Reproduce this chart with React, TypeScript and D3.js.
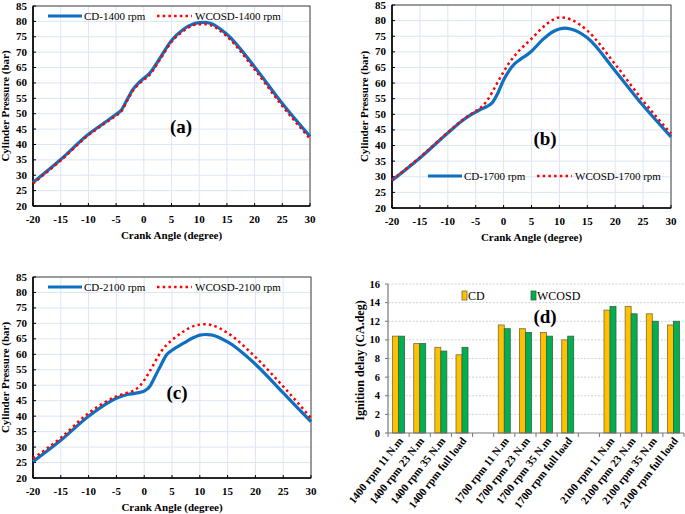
import React from "react";
import * as d3 from "d3";

// ---------- Data ----------
const anglesA = [-20, -15, -10, -7, -5, -4, -3, -2, -1, 0, 1, 2, 3, 5, 7, 9, 10, 11, 12, 15, 20, 25, 30];
const cd1400 = [27.6, 35.1, 43.3, 47.2, 49.8, 51.3, 54.6, 57.8, 59.9, 61.5, 63, 65.5, 68.3, 73.8, 77.2, 79.2, 79.6, 79.7, 79.4, 75.8, 65.2, 53.3, 42.6];
const wc1400 = [27.3, 34.8, 43, 46.9, 49.4, 50.9, 54.2, 57.4, 59.4, 61, 62.5, 65, 67.8, 73.3, 76.7, 78.8, 79.1, 79.1, 78.8, 75.1, 64.4, 52.5, 41.9];

const anglesB = [-20, -15, -10, -7, -5, -4, -3, -2, -1, 0, 1, 2, 3, 4, 5, 7, 9, 10, 11, 12, 15, 20, 25, 30];
const cd1700 = [28.8, 36, 44, 48.5, 50.7, 51.7, 52.5, 53.8, 56.9, 61, 64, 66.2, 67.6, 68.8, 70.2, 73.9, 76.6, 77.3, 77.6, 77.3, 74.5, 63.9, 52.8, 42.8];
const wc1700 = [29, 36.2, 44.2, 48.7, 51, 52.3, 54.3, 57.2, 60.5, 63.6, 66.5, 68.8, 70.8, 72.5, 74.2, 77.8, 80.4, 81, 80.9, 80.4, 76.8, 66, 54.3, 43.8];

const anglesC = [-20, -15, -10, -5, -3, -2, -1, 0, 1, 2, 3, 4, 5, 7, 9, 10, 11, 12, 15, 20, 25, 30];
const cd2100 = [25.3, 32.2, 40, 45.8, 47, 47.3, 47.6, 48.1, 49.6, 53, 56.5, 59.8, 61.3, 63.5, 65.5, 66.2, 66.4, 66.3, 64, 56.8, 47.5, 38.2];
const wc2100 = [26.3, 33, 41, 46.4, 47.6, 48.2, 49.4, 51.6, 54.5, 57.7, 60.8, 63, 64.6, 67.3, 69.2, 69.6, 69.7, 69.5, 66.9, 59.1, 49.6, 39.4];

const angleTicks = [-20, -15, -10, -5, 0, 5, 10, 15, 20, 25, 30];
const pressureTicks = [20, 25, 30, 35, 40, 45, 50, 55, 60, 65, 70, 75, 80, 85];

const delayCategories = [
  "1400 rpm 11 N.m", "1400 rpm 23 N.m", "1400 rpm 35 N.m", "1400 rpm full load", "gap1",
  "1700 rpm 11 N.m", "1700 rpm 23 N.m", "1700 rpm 35 N.m", "1700 rpm full load", "gap2",
  "2100 rpm 11 N.m", "2100 rpm 23 N.m", "2100 rpm 35 N.m", "2100 rpm full load",
];
const delayCD = [10.4, 9.6, 9.2, 8.4, null, 11.6, 11.2, 10.8, 10.0, null, 13.2, 13.6, 12.8, 11.6];
const delayWCOSD = [10.4, 9.6, 8.8, 9.2, null, 11.2, 10.8, 10.4, 10.4, null, 13.6, 12.8, 12.0, 12.0];
const delayTicks = [0, 2, 4, 6, 8, 10, 12, 14, 16];

// ---------- Styles ----------
const FONT = "'Liberation Serif', 'Times New Roman', serif";
const BLUE = "#0f6fc0";
const RED = "#ff0000";
const GRID = "#dbe5f4";

type PanelProps = {
  x0: number; x1: number; y0: number; y1: number;
  angles: number[]; cd: number[]; wc: number[];
  cdLabel: string; wcLabel: string;
  legendY: number; legendX: number;
  tag: string; tagX: number; tagY: number;
};

function PressurePanel(p: PanelProps) {
  const x = d3.scaleLinear().domain([-20, 30]).range([p.x0, p.x1]);
  const y = d3.scaleLinear().domain([20, 85]).range([p.y1, p.y0]);
  const line = d3.line<[number, number]>()
    .x((d) => x(d[0]))
    .y((d) => y(d[1]))
    .curve(d3.curveMonotoneX);
  const cdPts = p.angles.map((a, i) => [a, p.cd[i]] as [number, number]);
  const wcPts = p.angles.map((a, i) => [a, p.wc[i]] as [number, number]);
  const lx = p.legendX;
  return (
    <g fontFamily={FONT}>
      {angleTicks.map((t) => (
        <line key={"gx" + t} x1={x(t)} x2={x(t)} y1={p.y0} y2={p.y1} stroke={GRID} strokeWidth={1} />
      ))}
      {pressureTicks.map((t) => (
        <line key={"gy" + t} x1={p.x0} x2={p.x1} y1={y(t)} y2={y(t)} stroke={GRID} strokeWidth={1} />
      ))}
      <rect x={p.x0} y={p.y0} width={p.x1 - p.x0} height={p.y1 - p.y0} fill="none" stroke="#444" strokeWidth={1} />
      <line x1={p.x0} x2={p.x0} y1={p.y0} y2={p.y1} stroke="#000" strokeWidth={1.6} />
      <line x1={p.x0} x2={p.x1} y1={p.y1} y2={p.y1} stroke="#000" strokeWidth={1.6} />
      {angleTicks.map((t) => (
        <g key={"tx" + t}>
          <line x1={x(t)} x2={x(t)} y1={p.y1} y2={p.y1 - 3} stroke="#000" strokeWidth={1} />
          <text x={x(t)} y={p.y1 + 17} textAnchor="middle" fontSize={11} fontWeight="bold">{t}</text>
        </g>
      ))}
      {pressureTicks.map((t) => (
        <g key={"ty" + t}>
          <line x1={p.x0} x2={p.x0 + 3} y1={y(t)} y2={y(t)} stroke="#000" strokeWidth={1} />
          <text x={p.x0 - 6} y={y(t) + 3.5} textAnchor="end" fontSize={11} fontWeight="bold">{t}</text>
        </g>
      ))}
      <path d={line(cdPts) || ""} fill="none" stroke={BLUE} strokeWidth={3.2} />
      <path d={line(wcPts) || ""} fill="none" stroke={RED} strokeWidth={2.5} strokeDasharray="2.5 3.2" />
      <text x={(p.x0 + p.x1) / 2} y={p.y1 + 33} textAnchor="middle" fontSize={11} fontWeight="bold">Crank  Angle (degree)</text>
      <text transform={`translate(${p.x0 - 24},${(p.y0 + p.y1) / 2}) rotate(-90)`} textAnchor="middle" fontSize={11} fontWeight="bold">Cylinder Pressure (bar)</text>
      <line x1={lx} x2={lx + 34} y1={p.legendY} y2={p.legendY} stroke={BLUE} strokeWidth={3.2} />
      <text x={lx + 36} y={p.legendY + 4} fontSize={11}>{p.cdLabel}</text>
      <line x1={lx + 109} x2={lx + 144} y1={p.legendY} y2={p.legendY} stroke={RED} strokeWidth={2.5} strokeDasharray="2.5 3.2" />
      <text x={lx + 147} y={p.legendY + 4} fontSize={11}>{p.wcLabel}</text>
      <text x={p.tagX} y={p.tagY} textAnchor="middle" fontSize={19} fontWeight="bold">{p.tag}</text>
    </g>
  );
}

function DelayPanel() {
  const x0 = 388, x1 = 684, y0 = 284, y1 = 433;
  const x = d3.scaleBand().domain(delayCategories).range([x0, x1]);
  const y = d3.scaleLinear().domain([0, 16]).range([y1, y0]);
  const barW = 6;
  return (
    <g fontFamily={FONT}>
      {delayTicks.filter((t) => t > 0).map((t) => (
        <line key={"g" + t} x1={x0} x2={x1} y1={y(t)} y2={y(t)} stroke="#c8c8c8" strokeWidth={0.8} strokeDasharray="2 1.5" />
      ))}
      {delayCategories.map((c, i) => {
        const cx = (x(c) as number) + x.bandwidth() / 2;
        const a = delayCD[i];
        const b = delayWCOSD[i];
        return (
          <g key={c}>
            {a != null && (
              <rect x={cx - barW} y={y(a)} width={barW} height={y1 - y(a)} fill="#ffc000" stroke="#7a6a3a" strokeWidth={0.8} />
            )}
            {b != null && (
              <rect x={cx} y={y(b)} width={barW} height={y1 - y(b)} fill="#00b050" stroke="#3d5f45" strokeWidth={0.8} />
            )}
          </g>
        );
      })}
      <line x1={x0} x2={x0} y1={y0} y2={y1} stroke="#777" strokeWidth={1.2} />
      <line x1={x0} x2={x1} y1={y1} y2={y1} stroke="#777" strokeWidth={1.2} />
      {delayTicks.map((t) => (
        <g key={"t" + t}>
          <line x1={x0 - 3} x2={x0} y1={y(t)} y2={y(t)} stroke="#777" strokeWidth={1} />
          <text x={x0 - 8} y={y(t) + 3.5} textAnchor="end" fontSize={10.5} fontWeight="bold">{t}</text>
        </g>
      ))}
      {delayCategories.map((c) => (
        <line key={"b" + c} x1={x(c) as number} x2={x(c) as number} y1={y1} y2={y1 + 4} stroke="#777" strokeWidth={1} />
      ))}
      <line x1={x1} x2={x1} y1={y1} y2={y1 + 4} stroke="#777" strokeWidth={1} />
      {delayCategories.map((c) => {
        if (c.startsWith("gap")) return null;
        const cx = (x(c) as number) + x.bandwidth() / 2;
        return (
          <text key={"l" + c} transform={`translate(${cx + 5},${y1 + 8}) rotate(-52)`} textAnchor="end" fontSize={11} fontWeight="bold">{c}</text>
        );
      })}
      <text transform={`translate(${x0 - 24},${(y0 + y1) / 2 + 2}) rotate(-90)`} textAnchor="middle" fontSize={12} fontWeight="bold">Ignition delay (CA.deg)</text>
      <rect x={462} y={291} width={5} height={9} fill="#ffc000" stroke="#7a6a3a" strokeWidth={0.8} />
      <text x={468} y={299.5} fontSize={12}>CD</text>
      <rect x={531} y={291} width={5} height={9} fill="#00b050" stroke="#3d5f45" strokeWidth={0.8} />
      <text x={537} y={299.5} fontSize={12}>WCOSD</text>
      <text x={545} y={323} textAnchor="middle" fontSize={19} fontWeight="bold">(d)</text>
    </g>
  );
}

export default function App() {
  return (
    <svg width={685} height={514} style={{ position: "absolute", left: 0, top: 0, background: "#fff" }}>
      <rect x={0} y={0} width={685} height={514} fill="#fff" />
      <PressurePanel x0={33} x1={310} y0={6} y1={206} angles={anglesA} cd={cd1400} wc={wc1400}
        cdLabel="CD-1400 rpm" wcLabel="WCOSD-1400 rpm" legendX={48} legendY={16}
        tag="(a)" tagX={181} tagY={133} />
      <PressurePanel x0={392} x1={671} y0={5} y1={208} angles={anglesB} cd={cd1700} wc={wc1700}
        cdLabel="CD-1700 rpm" wcLabel="WCOSD-1700 rpm" legendX={428} legendY={176}
        tag="(b)" tagX={545} tagY={145} />
      <PressurePanel x0={33} x1={311} y0={277} y1={478} angles={anglesC} cd={cd2100} wc={wc2100}
        cdLabel="CD-2100 rpm" wcLabel="WCOSD-2100 rpm" legendX={48} legendY={287}
        tag="(c)" tagX={177} tagY={399} />
      <DelayPanel />
    </svg>
  );
}
